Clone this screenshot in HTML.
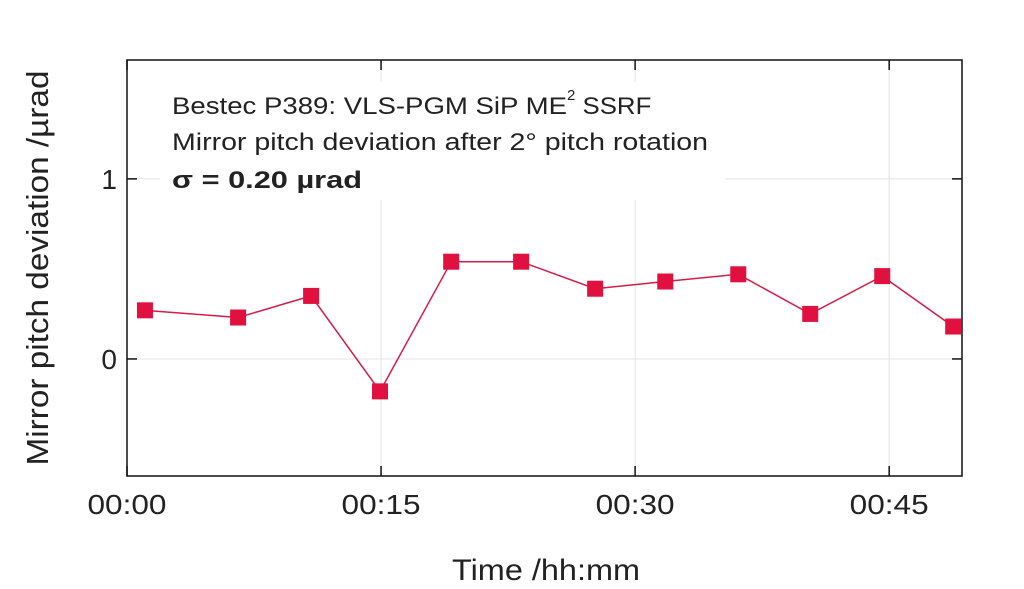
<!DOCTYPE html>
<html><head><meta charset="utf-8"><style>
body{margin:0;background:#fff;}
svg{display:block;font-family:"Liberation Sans",sans-serif;}
</style></head><body>
<svg id="chart" width="1024" height="589" viewBox="0 0 1024 589">
<g id="grid"></g>
<rect x="160" y="82" width="565" height="118" fill="#fff"/>
<g id="axes"></g>
<g id="series"></g>
<g font-size="24" fill="#222">
<text x="172" y="114"><tspan textLength="395" lengthAdjust="spacingAndGlyphs">Bestec P389: VLS-PGM SiP ME</tspan><tspan dy="-14" font-size="15">2</tspan><tspan dy="14" textLength="76" lengthAdjust="spacingAndGlyphs"> SSRF</tspan></text>
<text x="172" y="150" textLength="536" lengthAdjust="spacingAndGlyphs">Mirror pitch deviation after 2° pitch rotation</text>
<text x="172" y="188" font-weight="bold" textLength="190" lengthAdjust="spacingAndGlyphs">σ  = 0.20 µrad</text>
</g>
<text x="546" y="580" text-anchor="middle" font-size="30" textLength="188" lengthAdjust="spacingAndGlyphs" fill="#222">Time /hh:mm</text>
<text transform="translate(48,268) rotate(-90)" text-anchor="middle" font-size="31" textLength="395" lengthAdjust="spacingAndGlyphs" fill="#222">Mirror pitch deviation /µrad</text>
</svg>
<script>
const times=[1.06,6.56,10.87,14.94,19.14,23.27,27.64,31.78,36.09,40.34,44.59,48.78];
const values=[0.27,0.23,0.35,-0.18,0.54,0.54,0.39,0.43,0.47,0.25,0.46,0.18];
const xTicks=[0,15,30,45];
const xTickLabels=["00:00","00:15","00:30","00:45"];
const yTicks=[0,1];
const yTickLabels=["0","1"];
const L=127,R=962,T=60,B=476;
const xMin=0,xMax=49.3,yMin=-0.65,yMax=1.66;
const xs=t=>L+(t-xMin)/(xMax-xMin)*(R-L);
const ys=v=>B-(v-yMin)/(yMax-yMin)*(B-T);
const NS="http://www.w3.org/2000/svg";
function mk(tag,attrs,parent){const e=document.createElementNS(NS,tag);for(const k in attrs)e.setAttribute(k,attrs[k]);parent.appendChild(e);return e;}
const grid=document.getElementById('grid'),axes=document.getElementById('axes'),series=document.getElementById('series');
xTicks.forEach((t,i)=>{const x=xs(t);
 let g=mk('line',{x1:x,x2:x,y1:T,y2:B,stroke:'#e4e4e4','stroke-width':1},grid);
 
 
 let a=mk('line',{x1:x,x2:x,y1:B,y2:B-10,stroke:'#111','stroke-width':1.5},axes);
 
 
 let b=mk('line',{x1:x,x2:x,y1:T,y2:T+10,stroke:'#111','stroke-width':1.5},axes);
 
 
 let tx=mk('text',{x:x,y:514,'text-anchor':'middle','font-size':28,textLength:79,lengthAdjust:'spacingAndGlyphs',fill:'#222'},axes);
 tx.textContent=xTickLabels[i];
 
 
});
yTicks.forEach((v,i)=>{const y=ys(v);
 let g=mk('line',{x1:L,x2:R,y1:y,y2:y,stroke:'#e4e4e4','stroke-width':1},grid);
 
 
 let a=mk('line',{x1:L,x2:L+10,y1:y,y2:y,stroke:'#111','stroke-width':1.5},axes);
 
 
 let b=mk('line',{x1:R,x2:R-10,y1:y,y2:y,stroke:'#111','stroke-width':1.5},axes);
 
 
 let tx=mk('text',{x:117,y:y+10,'text-anchor':'end','font-size':28,fill:'#222'},axes);
 tx.textContent=yTickLabels[i];
 
 
});
let fr=mk('rect',{x:L,y:T,width:R-L,height:B-T,fill:'none',stroke:'#111','stroke-width':1.5},axes);


let pl=mk('polyline',{points:times.map((t,i)=>xs(t)+','+ys(values[i])).join(' '),fill:'none',stroke:'#d81b45','stroke-width':1.5},series);


times.forEach((t,i)=>{
 let m=mk('rect',{x:xs(t)-8,y:ys(values[i])-8,width:16,height:16,fill:'#e0103f'},series);
 
 
});
</script>
</body></html>
